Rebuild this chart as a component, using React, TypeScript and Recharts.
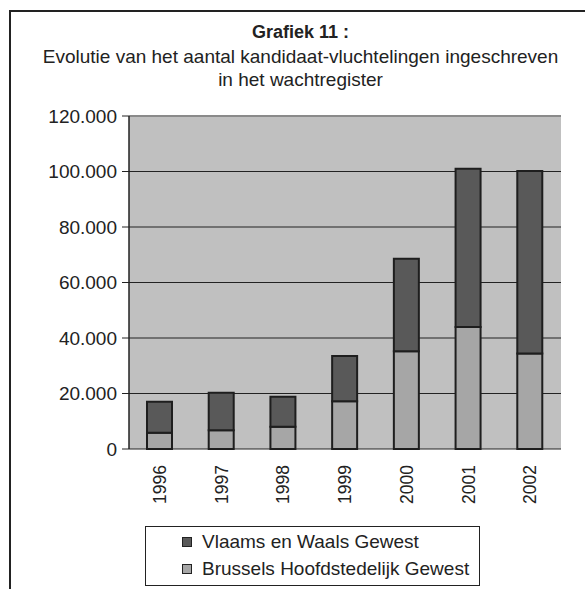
import { BarChart, Bar, XAxis, YAxis, CartesianGrid, ReferenceLine } from 'recharts';

const years = ['1996', '1997', '1998', '1999', '2000', '2001', '2002'];
const brussels = [5900, 6800, 8000, 17200, 35200, 44000, 34400];
const vlaamsWaals = [11100, 13500, 10800, 16300, 33400, 57000, 65800];
const yTicks = [0, 20000, 40000, 60000, 80000, 100000, 120000];

const series = [
  { key: 'vlaams', name: 'Vlaams en Waals Gewest', color: '#595959' },
  { key: 'brussels', name: 'Brussels Hoofdstedelijk Gewest', color: '#a6a6a6' },
];

const data = years.map((year, i) => ({
  year,
  brussels: brussels[i],
  vlaams: vlaamsWaals[i],
}));

const FONT = '"Liberation Sans", Arial, sans-serif';

const fmt = (v: number) => (v === 0 ? '0' : v.toLocaleString('de-DE'));

const YearTick = ({ x, y, payload }: any) => (
  <g transform={`translate(${x},${y})`}>
    <text
      transform="rotate(-90)"
      x={-16}
      dy="0.35em"
      textAnchor="end"
      fontSize={17.5}
      fill="#222"
      fontFamily={FONT}
    >
      {payload.value}
    </text>
  </g>
);

export default function App() {
  return (
    <div
      style={{
        position: 'absolute',
        left: 0,
        top: 0,
        width: 585,
        height: 589,
        overflow: 'hidden',
        background: '#fff',
        fontFamily: FONT,
        color: '#222',
      }}
    >
      {/* outer frame, only left and top edges are visible */}
      <div
        style={{
          position: 'absolute',
          left: 9,
          top: 10,
          width: 700,
          height: 700,
          borderLeft: '2px solid #222',
          borderTop: '2px solid #222',
        }}
      />

      <div style={{ position: 'absolute', left: 8, width: 585, top: 21, textAlign: 'center', fontSize: 19, lineHeight: '23.5px' }}>
        <div style={{ fontWeight: 'bold', fontSize: 18 }}>Grafiek 11 :</div>
        <div>Evolutie van het aantal kandidaat-vluchtelingen ingeschreven</div>
        <div>in het wachtregister</div>
      </div>

      <div style={{ position: 'absolute', left: 0, top: 0 }}>
        <BarChart
          width={585}
          height={589}
          data={data}
          barSize={25}
          margin={{ top: 116, right: 24, left: 9, bottom: 80 }}
        >
          <CartesianGrid fill="#c0c0c0" vertical={false} stroke="#222" strokeOpacity={1} />
          <XAxis
            xAxisId="frame"
            type="number"
            domain={[0, 7]}
            ticks={[0, 1, 2, 3, 4, 5, 6, 7]}
            height={0}
            tick={false}
            axisLine={{ stroke: '#222', strokeWidth: 1.5 }}
            tickLine={{ stroke: '#222' }}
            tickSize={6}
          />
          <XAxis
            dataKey="year"
            height={60}
            axisLine={false}
            tickLine={false}
            tickSize={0}
            tickMargin={0}
            tick={<YearTick />}
            interval={0}
          />
          <YAxis
            width={120}
            domain={[0, 120000]}
            ticks={yTicks}
            tickFormatter={fmt}
            axisLine={{ stroke: '#222', strokeWidth: 1.5 }}
            tickLine={{ stroke: '#222' }}
            tickSize={7}
            tickMargin={5}
            tick={{ fontSize: 19, fill: '#222', fontFamily: FONT }}
          />
          <ReferenceLine y={120000} stroke="#8a8a8a" strokeWidth={2} />
          <ReferenceLine xAxisId="frame" x={7} stroke="#8a8a8a" strokeWidth={2} />
          <Bar dataKey="brussels" stackId="a" fill="#a6a6a6" stroke="#1e1e1e" strokeWidth={2} isAnimationActive={false} />
          <Bar dataKey="vlaams" stackId="a" fill="#595959" stroke="#1e1e1e" strokeWidth={2} isAnimationActive={false} />
        </BarChart>
      </div>

      <div
        style={{
          position: 'absolute',
          left: 145,
          top: 526,
          width: 333,
          height: 58,
          border: '1px solid #222',
          fontSize: 19,
        }}
      >
        {series.map((s, i) => (
          <div
            key={s.key}
            style={{ position: 'absolute', left: 36, top: 2 + i * 27, height: 26, display: 'flex', alignItems: 'center', whiteSpace: 'nowrap' }}
          >
            <span
              style={{
                display: 'inline-block',
                width: 8,
                height: 8,
                background: s.color,
                border: '1px solid #222',
                marginRight: 10,
              }}
            />
            <span>{s.name}</span>
          </div>
        ))}
      </div>
    </div>
  );
}
